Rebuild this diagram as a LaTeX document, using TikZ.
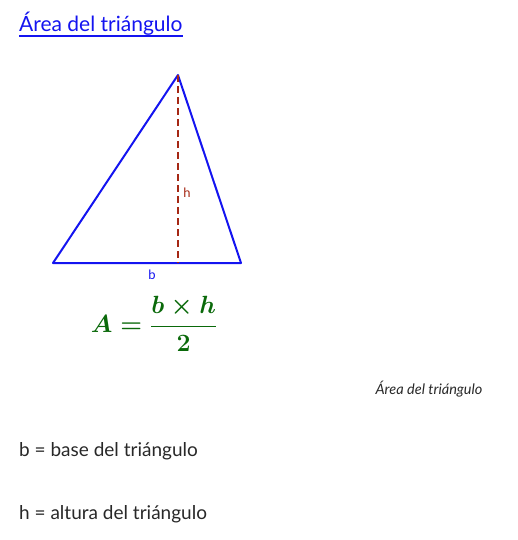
\documentclass[tikz,border=0pt]{standalone}
\usepackage{fontspec}
\setmainfont{Lato}
\usepackage{amsmath}
\definecolor{azul}{RGB}{20,20,240}
\definecolor{rojizo}{RGB}{165,40,20}
\definecolor{verde}{RGB}{10,105,10}
\definecolor{gristexto}{RGB}{40,40,40}

\begin{document}
\begin{tikzpicture}[x=1pt,y=-1pt,
	lado/.style={azul,line width=2pt,line join=round},
	altura/.style={rojizo,line width=2.6pt,dash pattern=on 7pt off 4pt},
	etiqueta/.style={font=\fontsize{13}{15}\selectfont,inner sep=1pt},
	texto/.style={gristexto,anchor=base west,inner sep=0pt,font=\fontsize{19}{22}\selectfont}]
	\useasboundingbox (0,0) rectangle (517,540);
%%% Titulo
	\node[azul,anchor=base west,inner sep=0pt,font=\fontsize{21}{25}\selectfont] (titulo) at (19,32) {Área del triángulo};
	\draw[azul,line width=1.6pt] ([yshift=-4pt]titulo.base west) -- ([yshift=-4pt]titulo.base east);
%%% Triangulo
	\coordinate (A) at (53,263);
	\coordinate (B) at (241,263);
	\coordinate (C) at (178,75);
	\coordinate (H) at (178,263);
	\draw[lado] (A) -- (B) -- (C) -- cycle;
	\draw[altura] (C) -- (H);
	\node[etiqueta,rojizo] (h) at (187,193) {h};
	\node[etiqueta,azul] (b) at (152,275) {b};
%%% Formula
	\node[verde,font=\fontsize{23}{27}\selectfont] (formula) at (154,324) {$\boldsymbol{A=\dfrac{b\times h}{2}}$};
%%% Leyenda
	\node[gristexto,font=\itshape\fontsize{14.5}{17}\selectfont] (leyenda) at (429,389) {Área del triángulo};
	\node[texto] (base) at (19,456) {b = base del triángulo};
	\node[texto] (alt) at (19,519) {h = altura del triángulo};
\end{tikzpicture}
\end{document}
